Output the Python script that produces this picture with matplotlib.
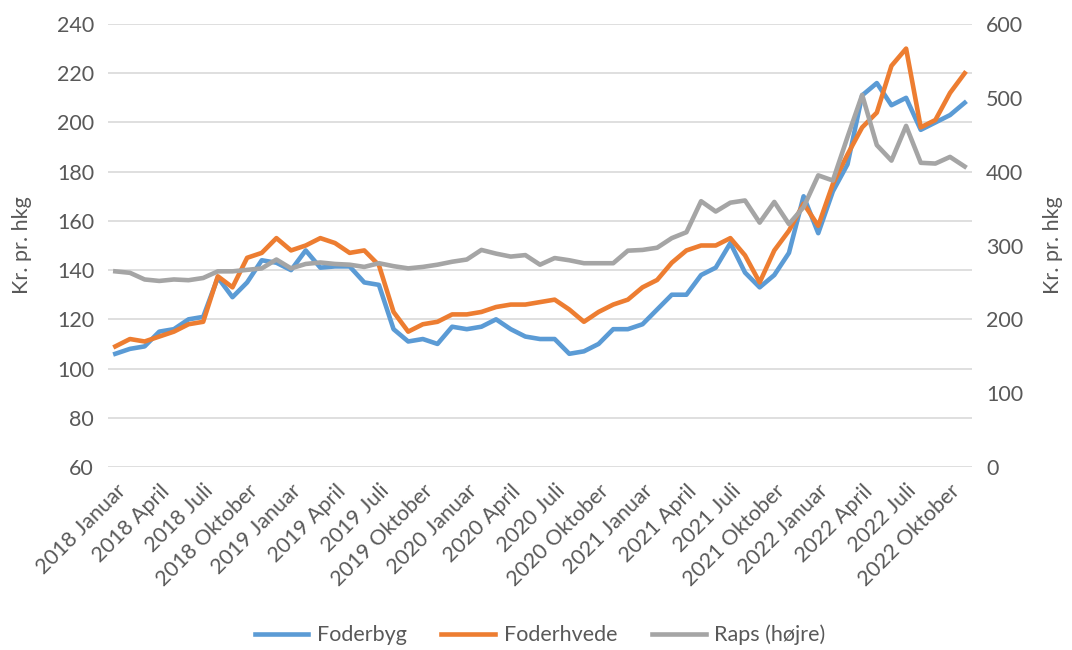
import numpy as np
import matplotlib
matplotlib.use("Agg")
import matplotlib.pyplot as plt

plt.rcParams['font.family'] = ['Lato', 'DejaVu Sans']

months = ["Januar", "Februar", "Marts", "April", "Maj", "Juni", "Juli",
          "August", "September", "Oktober", "November", "December"]
years = [2018, 2019, 2020, 2021, 2022]
n_points = 59  # 2018 Januar - 2022 November
categories = ["{} {}".format(years[i // 12], months[i % 12]) for i in range(n_points)]

foderbyg = [106, 108, 109, 115, 116, 120, 121, 137, 129, 135,
            144, 143, 140, 148, 141, 141.5, 141.5, 135, 134, 116,
            111, 112, 110, 117, 116, 117, 120, 116, 113, 112,
            112, 106, 107, 110, 116, 116, 118, 124, 130, 130,
            138, 141, 151, 139, 133, 138, 147, 170, 155, 172,
            183, 211, 216, 207, 210, 197, 200, 203, 208]

foderhvede = [109, 112, 111, 113, 115, 118, 119, 137.5, 133, 145,
              147, 153, 148, 150, 153, 151, 147, 148, 142, 123,
              115, 118, 119, 122, 122, 123, 125, 126, 126, 127,
              128, 124, 119, 123, 126, 128, 133, 136, 143, 148,
              150, 150, 153, 146, 135, 148, 156, 167, 158, 175,
              187, 198, 204, 223, 230, 198, 201, 212, 220]

raps = [265, 263, 254, 252, 254, 253, 256, 265, 265, 267,
        269, 281, 269, 275, 277, 275, 274, 271, 276, 272,
        269, 271, 274, 278, 281, 294, 289, 285, 287, 274,
        283, 280, 276, 276, 276, 293, 294, 297, 310, 318,
        360, 346, 358, 361, 331, 359, 329, 352, 395, 388,
        447, 504, 436, 415, 462, 412, 411, 420, 407]

txt = '#595959'
fs = 15.5
lw = 3.3

fig = plt.figure(figsize=(10.72, 6.5), dpi=100)
ax = fig.add_axes([108 / 1072, 1 - 467 / 650, 864 / 1072, 443 / 650])
ax2 = ax.twinx()

x = np.arange(n_points)
l1, = ax.plot(x, foderbyg, color='#5B9BD5', lw=lw, solid_joinstyle='round', label='Foderbyg')
l2, = ax.plot(x, foderhvede, color='#ED7D31', lw=lw, solid_joinstyle='round', label='Foderhvede')
l3, = ax2.plot(x, raps, color='#A5A5A5', lw=lw, solid_joinstyle='round', label='Raps (højre)')

ax.set_xlim(-0.5, n_points - 0.5)
ax.set_ylim(60, 240)
ax.set_yticks(np.arange(60, 241, 20))
ax2.set_ylim(0, 600)
ax2.set_yticks(np.arange(0, 601, 100))

ax.grid(axis='y', color='#D9D9D9', lw=1.2)
ax.set_axisbelow(True)

tick_pos = x[::3]
ax.set_xticks(tick_pos)
ax.set_xticklabels([categories[i] for i in tick_pos], rotation=45, ha='right',
                   rotation_mode='anchor', fontsize=fs, color=txt)

for a in (ax, ax2):
    for s in a.spines.values():
        s.set_visible(False)
    a.tick_params(length=0, labelsize=fs, labelcolor=txt)
ax.tick_params(axis='x', pad=10)
ax.tick_params(axis='y', pad=10)
ax2.tick_params(axis='y', pad=10)

ax.set_ylabel('Kr. pr. hkg', fontsize=fs, color=txt, labelpad=18)
ax2.set_ylabel('Kr. pr. hkg', fontsize=fs, color=txt, labelpad=14)

fig.legend(handles=[l1, l2, l3], loc='center', bbox_to_anchor=(540 / 1072, 1 - 635 / 650),
           ncol=3, frameon=False, fontsize=fs, handlelength=2.5, handletextpad=0.4,
           columnspacing=1.6, labelcolor=txt)

fig.savefig('out.png', dpi=100, facecolor='white')
